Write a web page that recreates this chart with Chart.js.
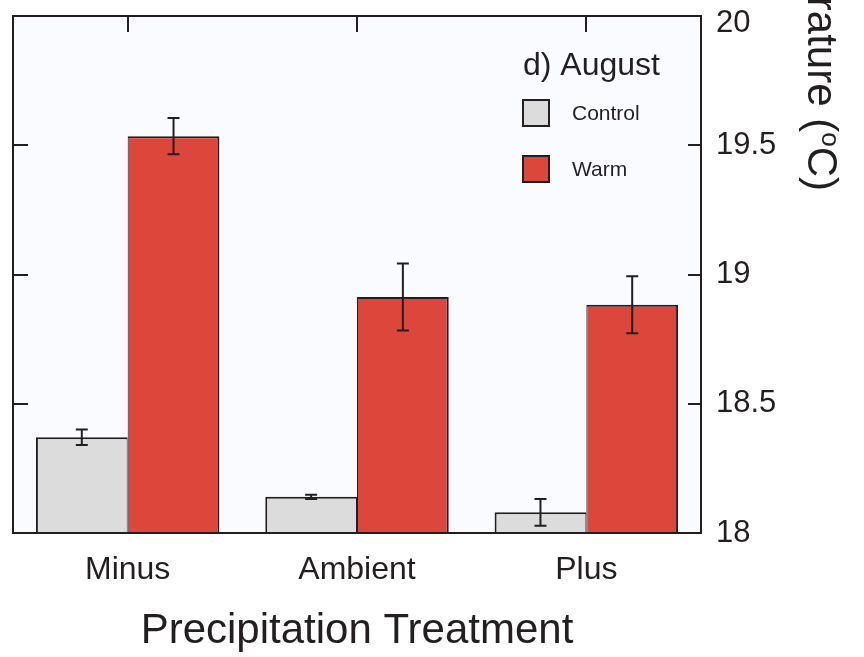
<!DOCTYPE html>
<html>
<head>
<meta charset="utf-8">
<script src="https://cdn.jsdelivr.net/npm/chart.js@4.4.1/dist/chart.umd.min.js"></script>
<style>
  html, body { margin: 0; padding: 0; background: #fff; }
</style>
</head>
<body>
<canvas id="tempChart" width="864" height="657"></canvas>
<script>
const categories = ['Minus', 'Ambient', 'Plus'];
const controlMeans = [18.37, 18.14, 18.08];
const warmMeans = [19.535, 18.913, 18.883];
const controlErr = [0.03, 0.008, 0.052];
const warmErr = [0.07, 0.13, 0.11];
const yTicks = [18, 18.5, 19, 19.5, 20];

const INK = '#231f20';
const FONT = "'Liberation Sans', Arial, sans-serif";

// frame, inward ticks, error bars, legend and the clipped y title
const decor = {
  id: 'decor',
  beforeDraw(chart) {
    const { ctx, chartArea: a } = chart;
    ctx.save();
    ctx.fillStyle = '#f9fbfe';
    ctx.fillRect(a.left, a.top, a.right - a.left, a.bottom - a.top);
    ctx.restore();
  },
  afterDatasetsDraw(chart) {
    const { ctx, chartArea: a, scales: { x, y } } = chart;
    ctx.save();
    ctx.strokeStyle = INK;
    ctx.lineWidth = 2;

    // ERROR BARS
    [controlErr, warmErr].forEach((errs, di) => {
      const meta = chart.getDatasetMeta(di);
      const means = chart.data.datasets[di].data;
      meta.data.forEach((bar, i) => {
        const cx = bar.x;
        const hi = y.getPixelForValue(means[i] + errs[i]);
        const lo = y.getPixelForValue(means[i] - errs[i]);
        ctx.beginPath();
        ctx.moveTo(cx, hi); ctx.lineTo(cx, lo);
        ctx.moveTo(cx - 6, hi); ctx.lineTo(cx + 6, hi);
        ctx.moveTo(cx - 6, lo); ctx.lineTo(cx + 6, lo);
        ctx.stroke();
      });
    });

    // FRAME
    ctx.strokeRect(a.left, a.top, a.right - a.left, a.bottom - a.top);

    // inward ticks on left/right and top
    yTicks.forEach(v => {
      if (v === y.min || v === y.max) return;
      const py = Math.round(y.getPixelForValue(v));
      ctx.beginPath();
      ctx.moveTo(a.right, py); ctx.lineTo(a.right - 13, py);
      ctx.moveTo(a.left, py); ctx.lineTo(a.left + 15, py);
      ctx.stroke();
    });
    categories.forEach((c, i) => {
      const px = Math.round(x.getPixelForValue(i));
      ctx.beginPath();
      ctx.moveTo(px, a.top); ctx.lineTo(px, a.top + 16);
      ctx.stroke();
    });
    ctx.restore();
  },
  afterDraw(chart) {
    const { ctx } = chart;
    ctx.save();
    ctx.fillStyle = INK;
    ctx.strokeStyle = INK;
    ctx.lineWidth = 2;

    // LEGEND
    ctx.font = '32px ' + FONT;
    ctx.textBaseline = 'alphabetic';
    ctx.fillText('d) August', 523, 75);
    ctx.font = '21px ' + FONT;
    ctx.textBaseline = 'middle';
    chart.data.datasets.forEach((ds, i) => {
      const by = 100 + i * 56;
      ctx.fillStyle = ds.backgroundColor;
      ctx.fillRect(523, by, 26, 26);
      ctx.strokeRect(523, by, 26, 26);
      ctx.fillStyle = INK;
      ctx.fillText(ds.label, 572, by + 14);
    });

    // Y TITLE (rotated, runs off the top like the source)
    const big = '42px ' + FONT, small = '26px ' + FONT;
    const parts = [['Temperature (', big, 0], ['o', small, -14], ['C)', big, 0]];
    let total = 0;
    parts.forEach(p => { ctx.font = p[1]; total += ctx.measureText(p[0]).width; });
    ctx.translate(808, 191);
    ctx.rotate(Math.PI / 2);
    ctx.textBaseline = 'alphabetic';
    let tx = -total;
    parts.forEach(p => {
      ctx.font = p[1];
      ctx.fillText(p[0], tx, p[2]);
      tx += ctx.measureText(p[0]).width;
    });
    ctx.restore();
  }
};

const yMax = yTicks[yTicks.length - 1];

const ctx = document.getElementById('tempChart').getContext('2d');
const tempChart = new Chart(ctx, {
  type: 'bar',
  data: {
    labels: categories,
    datasets: [{
      label: 'Control',
      data: controlMeans,
      backgroundColor: '#dcdcdc',
      borderColor: INK,
      borderWidth: { top: 2, left: 2, right: 1, bottom: 0 },
      categoryPercentage: 0.8,
      barPercentage: 1.0
    }, {
      label: 'Warm',
      data: warmMeans,
      backgroundColor: '#dd473b',
      borderColor: INK,
      borderWidth: { top: 2, left: 1, right: 2, bottom: 0 },
      categoryPercentage: 0.8,
      barPercentage: 1.0
    }]
  },
  options: {
    responsive: false,
    animation: false,
    layout: { padding: { left: 13, top: 16, right: 0, bottom: 0 } },
    plugins: { legend: { display: false }, tooltip: { enabled: false } },
    scales: {
      x: {
        grid: { display: false, drawTicks: false },
        border: { display: false },
        ticks: { color: INK, font: { family: FONT, size: 32 }, padding: 18 },
        title: {
          display: true,
          text: 'Precipitation Treatment',
          color: INK,
          font: { family: FONT, size: 42 },
          padding: { top: -5, bottom: 0 }
        },
        afterFit(s) { s.height = 124; s.paddingLeft = 0; s.paddingRight = 0; }
      },
      y: {
        position: 'right',
        min: yTicks[0],
        max: yMax,
        grid: { display: false, drawTicks: false },
        border: { display: false },
        ticks: {
          stepSize: 0.5,
          color: INK,
          // top label sits just under the frame corner in the source
          font: c => ({ family: FONT, size: 31, lineHeight: c.tick && c.tick.value === yMax ? 0.5 : 1.2 }),
          padding: 15,
          callback: v => v === yMax ? ['', String(v)] : String(v)
        },
        afterFit(s) { s.width = 163; s.paddingTop = 0; s.paddingBottom = 0; }
      }
    }
  },
  plugins: [decor]
});
</script>
</body>
</html>
